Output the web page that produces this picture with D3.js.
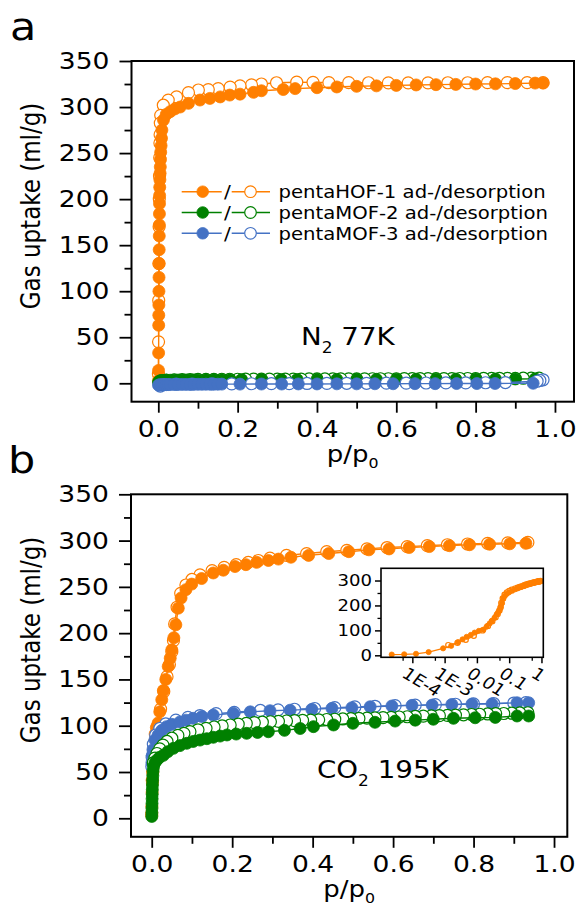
<!DOCTYPE html>
<html>
<head>
<meta charset="utf-8">
<script src="https://d3js.org/d3.v7.min.js"></script>
<style>
	body { margin: 0; background: #fff; }
	svg text { font-family: "DejaVu Sans", Verdana, sans-serif; fill: #000; }
</style>
</head>
<body>
<script>
// ---- data: [p/p0, uptake ml/g] ----
var seriesNames = ['pentaHOF-1', 'pentaMOF-2', 'pentaMOF-3'];
var seriesColors = ['#ff7f00', '#008000', '#4472c4'];

// N2 77K
var n2HofAds = [[0.0004,3],[0.0006,14],[0.0008,33],[0.001,63],[0.0012,74],[0.0014,85],[0.0016,100],[0.0018,115],[0.002,130],[0.0022,145],[0.0024,160],[0.0026,172],[0.0028,184],[0.003,195],[0.0033,204],[0.0036,213],[0.004,221],[0.0045,228],[0.005,235],[0.0055,243],[0.006,251],[0.007,258],[0.008,266],[0.009,275],[0.013,286],[0.02,292],[0.03,295],[0.042,298],[0.055,300],[0.076,304],[0.105,307.6],[0.13,309.4],[0.156,311],[0.18,313],[0.206,314],[0.24,316],[0.26,317.7],[0.315,319],[0.345,320],[0.4,321],[0.45,321.8],[0.5,322.5],[0.55,323],[0.6,323.5],[0.65,324],[0.7,324.3],[0.75,324.6],[0.8,325],[0.85,325.2],[0.9,325.5],[0.95,326],[0.97,326]];
var n2HofDes = [[0.97,326.5],[0.93,326.5],[0.88,326.5],[0.83,326.5],[0.78,326.4],[0.73,326.4],[0.68,326.3],[0.63,326.3],[0.58,326.3],[0.53,326.4],[0.48,326.5],[0.43,326.6],[0.39,326.8],[0.349,327],[0.298,326.4],[0.26,325],[0.235,324],[0.206,323],[0.181,321.6],[0.151,320],[0.126,319],[0.101,318.5],[0.076,315.6],[0.046,311],[0.025,307.6],[0.0126,302],[0.006,291],[0.005,282.6],[0.0045,270],[0.004,261],[0.0035,245],[0.003,225],[0.0025,200],[0.002,170],[0.0015,130],[0.001,90],[0.0006,45],[0.0003,10]];
var n2Mof2Ads = [[0.0005,1],[0.002,2],[0.004,2.5],[0.007,3],[0.01,3],[0.015,3],[0.02,3.2],[0.03,3.3],[0.04,3.4],[0.05,3.5],[0.06,3.5],[0.07,3.6],[0.08,3.6],[0.09,3.7],[0.1,3.7],[0.12,3.8],[0.14,3.8],[0.16,3.9],[0.18,3.9],[0.21,4],[0.26,4],[0.31,4.1],[0.35,4.1],[0.4,4.2],[0.45,4.2],[0.5,4.3],[0.55,4.3],[0.6,4.4],[0.65,4.4],[0.7,4.5],[0.75,4.5],[0.8,4.6],[0.85,4.6],[0.9,4.7],[0.95,4.8]];
var n2Mof2Des = [[0.96,5.6],[0.94,5.5],[0.92,5.5],[0.9,5.4],[0.88,5.4],[0.86,5.3],[0.84,5.3],[0.82,5.3],[0.8,5.2],[0.78,5.2],[0.76,5.2],[0.74,5.1],[0.72,5.1],[0.7,5.1],[0.68,5],[0.66,5],[0.64,5],[0.62,5],[0.6,4.9],[0.58,4.9],[0.56,4.9],[0.54,4.9],[0.52,4.8],[0.5,4.8],[0.48,4.8],[0.46,4.8],[0.44,4.7],[0.42,4.7],[0.4,4.7],[0.38,4.7],[0.36,4.6],[0.34,4.6],[0.32,4.6],[0.3,4.6],[0.28,4.5],[0.26,4.5],[0.24,4.5],[0.22,4.5],[0.2,4.4],[0.18,4.4],[0.16,4.4],[0.14,4.3],[0.12,4.3],[0.1,4.2],[0.08,4.1],[0.06,4],[0.04,3.8],[0.02,3.5]];
var n2Mof3Ads = [[0.0005,-2],[0.003,-1.8],[0.006,-1.6],[0.01,-1.5],[0.015,-1.5],[0.02,-1.5],[0.025,-1.4],[0.03,-1.4],[0.04,-1.3],[0.05,-1.3],[0.06,-1.2],[0.07,-1.2],[0.08,-1.2],[0.09,-1.1],[0.1,-1.1],[0.11,-1.1],[0.12,-1],[0.13,-1],[0.14,-1],[0.15,-1],[0.16,-0.9],[0.206,-0.9],[0.26,-0.8],[0.311,-0.8],[0.353,-0.7],[0.4,-0.7],[0.45,-0.6],[0.5,-0.6],[0.546,-0.5],[0.592,-0.5],[0.647,-0.4],[0.698,-0.4],[0.752,-0.3],[0.803,-0.3],[0.849,-0.2],[0.945,0]];
var n2Mof3Des = [[0.97,3.8],[0.962,3],[0.955,2.2],[0.875,0.8],[0.825,0.6],[0.775,0.5],[0.725,0.4],[0.675,0.3],[0.625,0.2],[0.575,0.1],[0.525,0],[0.475,0],[0.425,-0.1],[0.375,-0.2],[0.33,-0.3],[0.285,-0.4],[0.235,-0.5],[0.185,-0.6],[0.135,-0.7],[0.085,-0.8],[0.045,-1],[0.015,-1.5],[0.005,-3]];

// CO2 195K
var co2HofAds = [[2.3e-5,3],[5.6e-5,4],[1.3e-4,6],[3.2e-4,13],[9e-4,28],[1.6e-3,38],[2.6e-3,53],[3.6e-3,64],[4.8e-3,74],[6.5e-3,82],[8.5e-3,91],[0.0115,98],[0.016,103],[0.02,115],[0.025,128],[0.029,138],[0.035,150],[0.041,164],[0.046,173],[0.05,182],[0.055,195],[0.06,209],[0.066,227],[0.073,238],[0.085,247],[0.0995,253],[0.124,259],[0.153,265],[0.178,268],[0.207,272],[0.234,274],[0.261,276.5],[0.29,278.5],[0.315,280],[0.346,282],[0.39,284],[0.44,286],[0.49,288],[0.54,290],[0.59,291],[0.64,292.5],[0.69,293.5],[0.74,294.5],[0.79,295.5],[0.84,296],[0.89,296.5],[0.93,297]];
var co2HofDes = [[0.935,298],[0.885,297.5],[0.835,297],[0.785,296.3],[0.735,295.5],[0.685,294.5],[0.635,293.5],[0.585,292.5],[0.535,291],[0.485,289.5],[0.435,288],[0.385,286],[0.335,284],[0.294,281],[0.265,278.5],[0.24,276.5],[0.21,274],[0.18,271],[0.15,267.5],[0.12,263],[0.1,258],[0.085,252],[0.072,243],[0.063,228],[0.057,210],[0.054,192],[0.05,180],[0.044,166],[0.038,153],[0.03,137],[0.022,118],[0.015,100],[0.008,78],[0.0045,62],[0.0025,50],[0.0013,41]];
var co2Mof2Ads = [[0.0002,2],[0.0004,6],[0.0006,11],[0.0008,16],[0.001,21],[0.0012,26],[0.0015,31],[0.0018,36],[0.0022,41],[0.0027,46],[0.0033,51],[0.0045,55.7],[0.008,60],[0.013,63],[0.02,66],[0.029,68],[0.04,72],[0.054,75.6],[0.07,78.5],[0.087,81],[0.103,83],[0.12,84.5],[0.137,86],[0.153,87.5],[0.17,88.8],[0.187,90],[0.21,91],[0.236,91.8],[0.263,92.7],[0.29,93.5],[0.33,95],[0.369,97],[0.402,99],[0.452,100.8],[0.5,102.6],[0.555,103.7],[0.605,105],[0.655,106],[0.7,107],[0.75,108],[0.804,108.6],[0.854,109],[0.908,110.5],[0.937,110.5]];
var co2Mof2Des = [[0.935,114],[0.915,113.8],[0.895,113.5],[0.875,113.2],[0.855,113],[0.835,112.7],[0.815,112.4],[0.795,112.1],[0.775,111.8],[0.755,111.5],[0.735,111.2],[0.715,110.9],[0.695,110.6],[0.675,110.3],[0.655,110],[0.635,109.7],[0.615,109.4],[0.595,109.1],[0.575,108.8],[0.555,108.5],[0.535,108.2],[0.515,107.9],[0.495,107.6],[0.475,107.3],[0.455,107],[0.435,106.7],[0.415,106.4],[0.395,106.1],[0.375,105.8],[0.355,105.5],[0.335,105.1],[0.315,104.7],[0.295,104.3],[0.275,103.8],[0.255,103.3],[0.235,102.5],[0.215,101.7],[0.195,100.8],[0.175,99.8],[0.155,98.6],[0.135,97.2],[0.115,95.6],[0.095,93.6],[0.08,91.8],[0.065,89.5],[0.05,86.5],[0.038,83],[0.028,79],[0.02,75],[0.013,70],[0.008,65],[0.004,60]];
var co2Mof3Ads = [[0.0005,60],[0.0015,68],[0.003,74],[0.008,84.6],[0.016,90],[0.025,95],[0.037,99],[0.05,101.5],[0.07,104],[0.085,106],[0.103,108],[0.125,110],[0.153,111.5],[0.203,113.4],[0.245,115],[0.294,116.2],[0.344,116.8],[0.398,117.7],[0.448,118.8],[0.4975,119.4],[0.543,120.5],[0.597,121.3],[0.647,122],[0.697,122.3],[0.746,123],[0.796,123.4],[0.846,123.6],[0.908,124.8],[0.937,124.8]];
var co2Mof3Des = [[0.93,125],[0.9,124.5],[0.85,124],[0.8,123.5],[0.755,123.2],[0.705,122.8],[0.655,122.3],[0.605,121.7],[0.555,121],[0.505,120.3],[0.455,119.5],[0.405,118.6],[0.355,117.8],[0.314,117.2],[0.27,116.5],[0.205,114.5],[0.16,113],[0.12,111],[0.09,109],[0.06,106],[0.035,102],[0.02,97],[0.01,90],[0.004,80],[0.001,66],[0.0003,56]];

// ticks
var yTicks = [0, 50, 100, 150, 200, 250, 300, 350];
var yMinorTicks = [25, 75, 125, 175, 225, 275, 325];
var xTicks = [0, 0.2, 0.4, 0.6, 0.8, 1.0];
var xMinorTicks = [0.1, 0.3, 0.5, 0.7, 0.9];
var insetYTicks = [0, 100, 200, 300];
var insetYMinorTicks = [50, 150, 250];
var insetXTicks = [1e-4, 1e-3, 0.01, 0.1, 1];
var insetXLabels = ['1E-4', '1E-3', '0.01', '0.1', '1'];
var insetXMinorTicks = [5e-5, 5e-4, 5e-3, 0.05, 0.5];

// ---- drawing ----
var SX = 1.13; // the figure is a little wider than tall

var svg = d3.select('body')
	.append('svg')
		.attr('width', 577)
		.attr('height', 909);

function wideText(parent, x, y, str, size, anchor) {
	return parent.append('text')
		.attr('transform', 'translate(' + x + ',' + y + ') scale(' + SX + ',1)')
		.attr('font-size', size)
		.attr('text-anchor', anchor || 'start')
		.text(str);
}

function styleAxis(axisG, size) {
	axisG.attr('font-size', size).attr('font-family', null);
	axisG.select('.domain').remove();
	axisG.selectAll('line').attr('stroke', '#000').attr('stroke-width', 1.8);
	axisG.selectAll('text').each(function() {
		var t = d3.select(this);
		var tx = +t.attr('x') || 0, ty = +t.attr('y') || 0;
		t.attr('x', 0).attr('y', 0)
			.attr('transform', 'translate(' + tx + ',' + ty + ') scale(' + SX + ',1)');
	});
}

function drawSeries(g, x, y, data, color, filled, r, lw) {
	var line = d3.line()
		.x(function(d) { return x(d[0]); })
		.y(function(d) { return y(d[1]); });
	g.append('path')
		.datum(data)
		.attr('d', line)
		.attr('fill', 'none')
		.attr('stroke', color)
		.attr('stroke-width', lw);
	g.append('g')
		.selectAll('circle')
			.data(data).enter()
		.append('circle')
			.attr('cx', function(d) { return x(d[0]); })
			.attr('cy', function(d) { return y(d[1]); })
			.attr('r', r)
			.attr('fill', filled ? color : '#fff')
			.attr('stroke', color)
			.attr('stroke-width', filled ? 0.8 : 1.2);
}

function drawPanel(p) {
	var x = d3.scaleLinear().domain(p.xDomain).range([p.left, p.right]);
	var y = d3.scaleLinear().domain([-20, 350]).range([p.bottom, p.top]);
	var g = svg.append('g');

	var yMin = g.append('g').attr('transform', 'translate(' + p.left + ',0)')
		.call(d3.axisLeft(y).tickValues(yMinorTicks).tickSize(7).tickFormat(''));
	styleAxis(yMin, 23.5);
	var yMaj = g.append('g').attr('transform', 'translate(' + p.left + ',0)')
		.call(d3.axisLeft(y).tickValues(yTicks).tickSize(12).tickPadding(10));
	styleAxis(yMaj, 23.5);

	var xMin = g.append('g').attr('transform', 'translate(0,' + p.bottom + ')')
		.call(d3.axisBottom(x).tickValues(xMinorTicks).tickSize(7).tickFormat(''));
	styleAxis(xMin, 23.5);
	var xMaj = g.append('g').attr('transform', 'translate(0,' + p.bottom + ')')
		.call(d3.axisBottom(x).tickValues(xTicks).tickSize(11).tickPadding(8).tickFormat(d3.format('.1f')));
	styleAxis(xMaj, 23.5);

	var plot = g.append('g');
	p.order.forEach(function(i) {
		var s = p.series[i];
		drawSeries(plot, x, y, s.des, seriesColors[i], false, 6, 1.4);
		drawSeries(plot, x, y, s.ads, seriesColors[i], true, 6, 1.4);
	});

	g.append('rect')
		.attr('x', p.left).attr('y', p.top)
		.attr('width', p.right - p.left).attr('height', p.bottom - p.top)
		.attr('fill', 'none').attr('stroke', '#000').attr('stroke-width', 2);

	// axis titles
	g.append('text')
		.attr('transform', 'translate(40,' + p.yLabelY + ') scale(' + SX + ',1) rotate(-90)')
		.attr('font-size', 23)
		.attr('text-anchor', 'middle')
		.text('Gas uptake (ml/g)');
	var xl = g.append('text')
		.attr('transform', 'translate(' + ((p.left + p.right) / 2) + ',' + (p.bottom + 60) + ') scale(' + SX + ',1)')
		.attr('font-size', 23)
		.attr('text-anchor', 'middle');
	xl.append('tspan').text('p/p');
	xl.append('tspan').attr('font-size', 14).attr('dy', 6).text('0');

	wideText(g, p.tagX, p.tagY, p.tag, 38);

	var gas = g.append('text')
		.attr('transform', 'translate(' + p.gasX + ',' + p.gasY + ') scale(' + SX + ',1)')
		.attr('font-size', 24.5);
	gas.append('tspan').text(p.gas[0]);
	gas.append('tspan').attr('font-size', 15).attr('dy', 8).text(p.gas[1]);
	gas.append('tspan').attr('dy', -8).text(' ' + p.gas[2]);

	return { x: x, y: y, g: g };
}

var panelA = drawPanel({
	left: 131.5, right: 574, top: 61, bottom: 401.7,
	xDomain: [-0.0676, 1.048],
	series: [
		{ ads: n2HofAds, des: n2HofDes },
		{ ads: n2Mof2Ads, des: n2Mof2Des },
		{ ads: n2Mof3Ads, des: n2Mof3Des }
	],
	order: [0, 1, 2],
	yLabelY: 206,
	tag: 'a', tagX: 10, tagY: 40,
	gas: ['N', '2', '77K'], gasX: 301, gasY: 345
});

var panelB = drawPanel({
	left: 131, right: 567.3, top: 494.3, bottom: 836.8,
	xDomain: [-0.0515, 1.033],
	series: [
		{ ads: co2HofAds, des: co2HofDes },
		{ ads: co2Mof2Ads, des: co2Mof2Des },
		{ ads: co2Mof3Ads, des: co2Mof3Des }
	],
	order: [0, 2, 1],
	yLabelY: 640,
	tag: 'b', tagX: 8, tagY: 473,
	gas: ['CO', '2', '195K'], gasX: 317, gasY: 778
});

// legend (panel a)
var legend = panelA.g.append('g');
seriesNames.forEach(function(name, i) {
	var ly = 191.7 + i * 20.8;
	var c = seriesColors[i];
	legend.append('line').attr('x1', 181.7).attr('x2', 221.7).attr('y1', ly).attr('y2', ly)
		.attr('stroke', c).attr('stroke-width', 1.5);
	legend.append('circle').attr('cx', 202.7).attr('cy', ly).attr('r', 5.8)
		.attr('fill', c).attr('stroke', c).attr('stroke-width', 0.8);
	wideText(legend, 224, ly + 6.5, '/', 18);
	legend.append('line').attr('x1', 231.7).attr('x2', 270).attr('y1', ly).attr('y2', ly)
		.attr('stroke', c).attr('stroke-width', 1.5);
	legend.append('circle').attr('cx', 250.5).attr('cy', ly).attr('r', 5.8)
		.attr('fill', '#fff').attr('stroke', c).attr('stroke-width', 1.2);
	wideText(legend, 278.5, ly + 6.5, name + ' ad-/desorption', 17.4);
});

// inset (panel b): log scale
var inset = { left: 381, right: 543.3, top: 568.3, bottom: 657.3 };
var ix = d3.scaleLog().domain([1.07e-5, 1.14]).range([inset.left, inset.right]);
var iy = d3.scaleLinear().domain([-8, 349]).range([inset.bottom, inset.top]);
var ig = svg.append('g');
ig.append('rect')
	.attr('x', inset.left).attr('y', inset.top)
	.attr('width', inset.right - inset.left).attr('height', inset.bottom - inset.top)
	.attr('fill', '#fff');

var iyMin = ig.append('g').attr('transform', 'translate(' + inset.left + ',0)')
	.call(d3.axisLeft(iy).tickValues(insetYMinorTicks).tickSize(3.5).tickFormat(''));
styleAxis(iyMin, 16);
var iyMaj = ig.append('g').attr('transform', 'translate(' + inset.left + ',0)')
	.call(d3.axisLeft(iy).tickValues(insetYTicks).tickSize(6).tickPadding(3));
styleAxis(iyMaj, 16);
var ixMin = ig.append('g').attr('transform', 'translate(0,' + inset.bottom + ')')
	.call(d3.axisBottom(ix).tickValues(insetXMinorTicks).tickSize(3.5).tickFormat(''));
styleAxis(ixMin, 16);
var ixMaj = ig.append('g').attr('transform', 'translate(0,' + inset.bottom + ')')
	.call(d3.axisBottom(ix).tickValues(insetXTicks).tickSize(6)
		.tickFormat(function(d, i) { return insetXLabels[i]; }));
styleAxis(ixMaj, 16.5);
ixMaj.selectAll('line').attr('stroke-width', 1.5);
iyMaj.selectAll('line').attr('stroke-width', 1.5);
ixMin.selectAll('line').attr('stroke-width', 1.3);
iyMin.selectAll('line').attr('stroke-width', 1.3);
ixMaj.selectAll('text')
	.attr('dy', null)
	.attr('text-anchor', 'start')
	.attr('transform', 'translate(-12,19) scale(' + SX + ',1) rotate(34)');

var iplot = ig.append('g');
drawSeries(iplot, ix, iy, co2HofDes, seriesColors[0], false, 2.6, 1.2);
drawSeries(iplot, ix, iy, co2HofAds, seriesColors[0], true, 2.6, 1.2);

ig.append('rect')
	.attr('x', inset.left).attr('y', inset.top)
	.attr('width', inset.right - inset.left).attr('height', inset.bottom - inset.top)
	.attr('fill', 'none').attr('stroke', '#000').attr('stroke-width', 1.6);
</script>
</body>
</html>
